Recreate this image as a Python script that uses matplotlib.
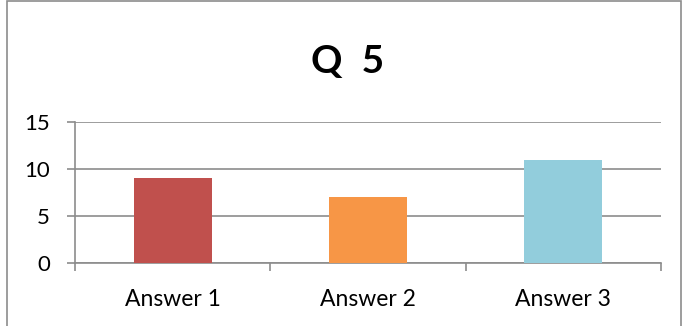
import matplotlib
matplotlib.use("Agg")
import matplotlib.pyplot as plt
from matplotlib.patches import Rectangle

categories = ["Answer 1", "Answer 2", "Answer 3"]
values = [9, 7, 11]
colors = ["#C0504D", "#F79646", "#92CDDC"]
yticks = [0, 5, 10, 15]
title = "Q  5"

plt.rcParams['font.family'] = ['Lato', 'DejaVu Sans']

fig = plt.figure(figsize=(6.83, 3.26), dpi=100)
fig.patches.append(Rectangle((7/683, -0.1), (681-7)/683, 1.1 - 1/326, transform=fig.transFigure,
                             fill=False, edgecolor="#8c8c8c", linewidth=1.2, zorder=0))
ax = fig.add_axes([75/683, 1-263/326, (661-75)/683, (263-122)/326])

x = list(range(len(categories)))
ax.bar(x, values, width=0.4, color=colors, zorder=3)
ax.set_xlim(-0.5, len(categories)-0.5)
ax.set_ylim(0, 15)
ax.set_yticks(yticks)
ax.set_xticks(x)
ax.set_xticklabels(categories)
ax.set_xticks([i - 0.5 for i in range(len(categories)+1)], minor=True)
ax.tick_params(axis='x', which='major', length=0, pad=18.5, labelsize=16.5)
ax.tick_params(axis='x', which='minor', length=6, width=1.2, color="#8c8c8c", direction='out')
ax.tick_params(axis='y', length=6, width=1.2, color="#8c8c8c", pad=12, labelsize=16)
ax.grid(axis='y', color="#8c8c8c", linewidth=1.2, zorder=0)
for s in ['top', 'right']:
    ax.spines[s].set_visible(False)
for s in ['left', 'bottom']:
    ax.spines[s].set_color("#8c8c8c")
    ax.spines[s].set_linewidth(1.2)

fig.text(348/683, 1-62/326, title, ha='center', va='center', fontsize=28, fontweight='bold')

fig.savefig("out.png", dpi=100)
